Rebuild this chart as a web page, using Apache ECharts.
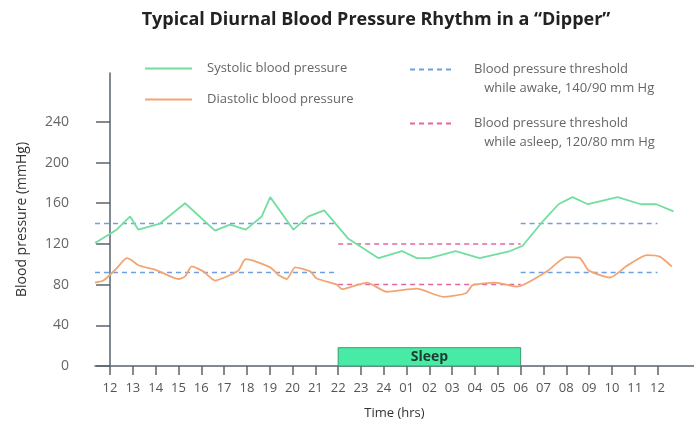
<!DOCTYPE html>
<html>
<head>
<meta charset="utf-8">
<script src="https://cdn.jsdelivr.net/npm/echarts@6/dist/echarts.min.js"></script>
<style>
  html, body { margin: 0; padding: 0; background: #fff; }
  #container { width: 694px; height: 421px; }
</style>
</head>
<body>
<div id="container"></div>
<script>
// hour index 0 = 12 o'clock (noon), 24 = noon next day
var hourLabels = ['12', '13', '14', '15', '16', '17', '18', '19', '20', '21', '22', '23', '24',
    '01', '02', '03', '04', '05', '06', '07', '08', '09', '10', '11', '12'];
var hourTicks = [0, 1, 2, 3, 4, 5, 6, 7, 8, 9, 10, 11, 12, 13, 14, 15, 16, 17, 18, 19, 20, 21, 22, 23, 24];
var pressureTicks = [0, 40, 80, 120, 160, 200, 240];

var systolic = [
    [-0.66, 121], [0.29, 134], [0.88, 147], [1.24, 134], [2.19, 140], [3.29, 160],
    [4.6, 133], [5.26, 139], [5.95, 134], [6.65, 147], [7.02, 166], [8.04, 134],
    [8.7, 147], [9.39, 153], [10.45, 125], [11.77, 106], [12.79, 113], [13.45, 106],
    [14.0, 106], [15.15, 113], [16.2, 106], [17.54, 113], [18.08, 118], [19.0, 143],
    [19.66, 159], [20.27, 166], [20.95, 159], [22.25, 166], [23.27, 159], [23.95, 159],
    [24.7, 152]
];
var diastolic = [
    [-0.66, 82], [-0.29, 84], [0.29, 96], [0.73, 106], [0.95, 104], [1.24, 99],
    [2.05, 94], [3.0, 85.5], [3.29, 88], [3.58, 98], [4.09, 93], [4.6, 84],
    [5.12, 88], [5.63, 94], [5.85, 103], [5.95, 105], [7.02, 97], [7.38, 89.5],
    [7.75, 85.5], [8.11, 97], [8.77, 93], [9.06, 86], [9.94, 80], [10.16, 75.5],
    [10.6, 78], [11.26, 82], [12.13, 73], [13.45, 76], [14.6, 68], [15.6, 71.5],
    [15.9, 79.5], [16.9, 82], [17.84, 78], [19.15, 93], [20.0, 107], [20.6, 106],
    [20.98, 94], [21.93, 87], [22.66, 98.5], [23.54, 109], [24.1, 107.5], [24.63, 97.6]
];

// threshold segments
var awakeSys1 = [[-0.66, 140], [10, 140]];
var awakeDia1 = [[-0.66, 92], [10, 92]];
var awakeSys2 = [[18, 140], [24, 140]];
var awakeDia2 = [[18, 92], [24, 92]];
var asleepSys = [[10, 120], [18, 120]];
var asleepDia = [[10, 80], [18, 80]];

// sleep period box (hour index from / to, height in mmHg)
var sleepFrom = 10;
var sleepTo = 18;
var sleepTop = 18;

var names = {
    sys: 'Systolic blood pressure',
    dia: 'Diastolic blood pressure',
    awake: 'awake',
    asleep: 'asleep'
};
var thresholdText = {
    awake: 'Blood pressure threshold\n   while awake, 140/90 mm Hg',
    asleep: 'Blood pressure threshold\n   while asleep, 120/80 mm Hg'
};

var font = 'Open Sans';
var axisColor = '#59636d';
var green = '#72de9f';
var orange = '#f2a574';
var blue = '#6f9fe0';
var pink = '#e2679f';

var chart = echarts.init(document.getElementById('container'));

function dashed(name, data, color) {
    return {
        name: name,
        type: 'line',
        data: data,
        symbol: 'none',
        silent: true,
        lineStyle: { color: color, width: 1.5, type: [5, 4] },
        itemStyle: { color: color }
    };
}

var legendText = { fontFamily: font, fontSize: 13, color: '#666' };

var option = {
    animation: false,
    backgroundColor: '#fff',
    textStyle: { fontFamily: font },
    title: {
        text: 'Typical Diurnal Blood Pressure Rhythm in a \u201cDipper\u201d',
        left: 371,
        top: 6,
        textAlign: 'center',
        textStyle: { fontFamily: font, fontSize: 18, fontWeight: 'bold', color: '#222' }
    },
    legend: [{
        data: [names.sys, names.dia],
        orient: 'vertical',
        left: 139,
        top: 57,
        itemWidth: 47,
        itemHeight: 14,
        itemGap: 18,
        itemStyle: { opacity: 0 },
        textStyle: Object.assign({ padding: [0, 0, 0, 10] }, legendText)
    }, {
        data: [names.awake],
        left: 404,
        top: 36,
        itemWidth: 45,
        itemHeight: 14,
        itemStyle: { opacity: 0 },
        formatter: function (n) { return '\n' + thresholdText[n]; },
        textStyle: Object.assign({ lineHeight: 19, padding: [0, 0, 0, 14] }, legendText)
    }, {
        data: [names.asleep],
        left: 404,
        top: 90,
        itemWidth: 45,
        itemHeight: 14,
        itemStyle: { opacity: 0 },
        formatter: function (n) { return '\n' + thresholdText[n]; },
        textStyle: Object.assign({ lineHeight: 19, padding: [0, 0, 0, 14] }, legendText)
    }],
    grid: { left: 95, right: 0, top: 73, bottom: 55, outerBoundsMode: 'none' },
    xAxis: {
        type: 'value',
        min: -0.66,
        max: 25.6,
        name: 'Time (hrs)',
        nameLocation: 'middle',
        nameGap: 41,
        nameTextStyle: { fontFamily: font, fontSize: 13, color: '#333' },
        axisLine: { show: true, onZero: false, lineStyle: { color: axisColor, width: 1.5 } },
        axisTick: { show: true, length: 9, customValues: hourTicks, lineStyle: { color: axisColor, width: 1.5 } },
        axisLabel: {
            customValues: hourTicks,
            margin: 16,
            fontSize: 13,
            color: '#555',
            formatter: function (v) { return hourLabels[Math.round(v)]; }
        },
        splitLine: { show: false }
    },
    yAxis: {
        type: 'value',
        min: 0,
        max: 288,
        name: 'Blood pressure (mmHg)',
        nameLocation: 'middle',
        nameRotate: 90,
        nameGap: 66,
        nameTextStyle: { fontFamily: font, fontSize: 14, color: '#333' },
        axisLine: { show: true, lineStyle: { color: axisColor, width: 1.5 } },
        axisTick: { show: true, length: 14, customValues: pressureTicks, lineStyle: { color: axisColor, width: 1.5 } },
        axisLabel: { customValues: pressureTicks, margin: 26, fontSize: 14, color: '#666' },
        splitLine: { show: false }
    },
    series: [
        dashed(names.awake, awakeSys1, blue),
        dashed(names.awake, awakeDia1, blue),
        dashed(names.awake, awakeSys2, blue),
        dashed(names.awake, awakeDia2, blue),
        dashed(names.asleep, asleepSys, pink),
        dashed(names.asleep, asleepDia, pink),
        {
            name: names.dia,
            type: 'line',
            data: diastolic,
            symbol: 'none',
            smooth: 0.2,
            lineStyle: { color: orange, width: 1.8 },
            itemStyle: { color: orange }
        },
        {
            name: names.sys,
            type: 'line',
            data: systolic,
            symbol: 'none',
            lineStyle: { color: green, width: 1.8 },
            itemStyle: { color: green },
            markArea: {
                silent: true,
                itemStyle: { color: '#47eba6', borderColor: '#3a9c70', borderWidth: 1 },
                label: {
                    show: true,
                    position: 'inside',
                    formatter: 'Sleep',
                    fontFamily: font,
                    fontSize: 14,
                    fontWeight: 'bold',
                    color: '#1d3b2e'
                },
                data: [[{ xAxis: sleepFrom, yAxis: 0 }, { xAxis: sleepTo, yAxis: sleepTop }]]
            }
        }
    ]
};

chart.setOption(option);
</script>
</body>
</html>
